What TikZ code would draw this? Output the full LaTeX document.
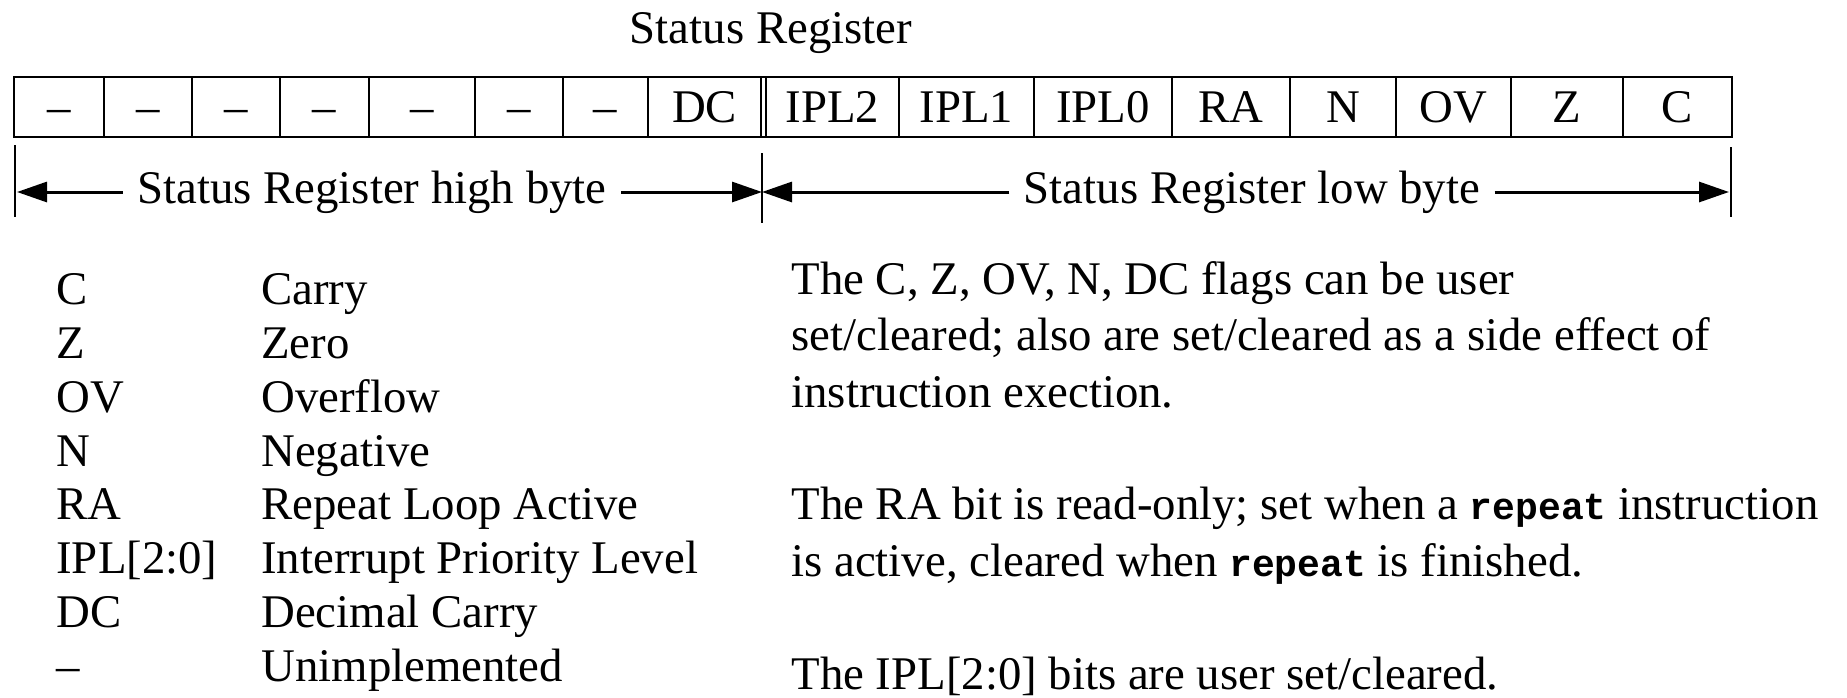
\documentclass[tikz,border=0pt]{standalone}
\usepackage{fontspec}
\setmainfont{Liberation Serif}
\setmonofont{Liberation Mono}
\usetikzlibrary{positioning,arrows.meta}
\newcommand\kw[1]{{\fontsize{19}{20}\selectfont\ttfamily\bfseries #1}}

\begin{document}
\begin{tikzpicture}[x=0.5pt, y=-0.5pt, font=\fontsize{23.4}{28.2}\selectfont,
        cell/.style = {draw, line width=1pt, outer sep=0pt, inner sep=0pt, minimum height=30pt, text height=15.3pt, text depth=0pt},
        lbl/.style = {inner xsep=7pt, text height=15.5pt, text depth=4.5pt},
        dimarrow/.style = {-{Triangle[length=15pt, width=10pt]}, line width=1.5pt},
        divider/.style = {line width=1.3pt},
        legend/.style = {anchor=base west, align=left, inner sep=0pt, font=\fontsize{23.4}{26.86}\selectfont}]
    \useasboundingbox (0,0) rectangle (1847,697);

    \node[anchor=base] (title) at (771,43) {Status Register};

    % high byte
    \node[cell, minimum width=45pt, anchor=west] (b15) at (14,107) {--};
    \node[cell, minimum width=44pt, right=0pt of b15] (b14) {--};
    \node[cell, minimum width=44pt, right=0pt of b14] (b13) {--};
    \node[cell, minimum width=44.5pt, right=0pt of b13] (b12) {--};
    \node[cell, minimum width=53pt, right=0pt of b12] (b11) {--};
    \node[cell, minimum width=44pt, right=0pt of b11] (b10) {--};
    \node[cell, minimum width=42.5pt, right=0pt of b10] (b9) {--};
    \node[cell, minimum width=56.5pt, right=0pt of b9] (b8) {DC};
    % low byte
    \node[cell, minimum width=66.5pt, right=2.5pt of b8] (b7) {IPL2};
    \node[cell, minimum width=67.5pt, right=0pt of b7] (b6) {IPL1};
    \node[cell, minimum width=69pt, right=0pt of b6] (b5) {IPL0};
    \node[cell, minimum width=59pt, right=0pt of b5] (b4) {RA};
    \node[cell, minimum width=53pt, right=0pt of b4] (b3) {N};
    \node[cell, minimum width=57.5pt, right=0pt of b3] (b2) {OV};
    \node[cell, minimum width=56pt, right=0pt of b2] (b1) {Z};
    \node[cell, minimum width=54.5pt, right=0pt of b1] (b0) {C};
    \draw[line width=1pt] (b8.north east) -- (b7.north west) (b8.south east) -- (b7.south west);

    \draw[divider] (15,145) -- (15,217);
    \draw[divider] (762,153) -- (762,223);
    \draw[divider] (1731,147) -- (1731,217);
    \coordinate (hbL) at (17,192);
    \coordinate (mid) at (762,192);
    \coordinate (lbR) at (1729,192);

    \node[lbl] (hb) at (372,192) {Status Register high byte};
    \node[lbl] (lb) at (1252,192) {Status Register low byte};
    \draw[dimarrow] (hb) -- (hbL);
    \draw[dimarrow] (hb) -- (mid);
    \draw[dimarrow] (lb) -- (mid);
    \draw[dimarrow] (lb) -- (lbR);

    % the base of a multi-line node is its last line
    \node[legend] (keys) at (56,681)
        {C\\Z\\OV\\N\\RA\\IPL[2:0]\\DC\\--};
    \node[legend] (names) at (261,681)
        {Carry\\Zero\\Overflow\\Negative\\Repeat Loop Active\\Interrupt Priority Level\\Decimal Carry\\Unimplemented};

    \node[anchor=base west, align=left, inner sep=0pt] (notes) at (791,689)
        {The C, Z, OV, N, DC flags can be user\\
         set/cleared; also are set/cleared as a side effect of\\
         instruction exection.\\[28.2pt]
         The RA bit is read-only; set when a \kw{repeat} instruction\\
         is active, cleared when \kw{repeat} is finished.\\[28.2pt]
         The IPL[2:0] bits are user set/cleared.};
\end{tikzpicture}
\end{document}
